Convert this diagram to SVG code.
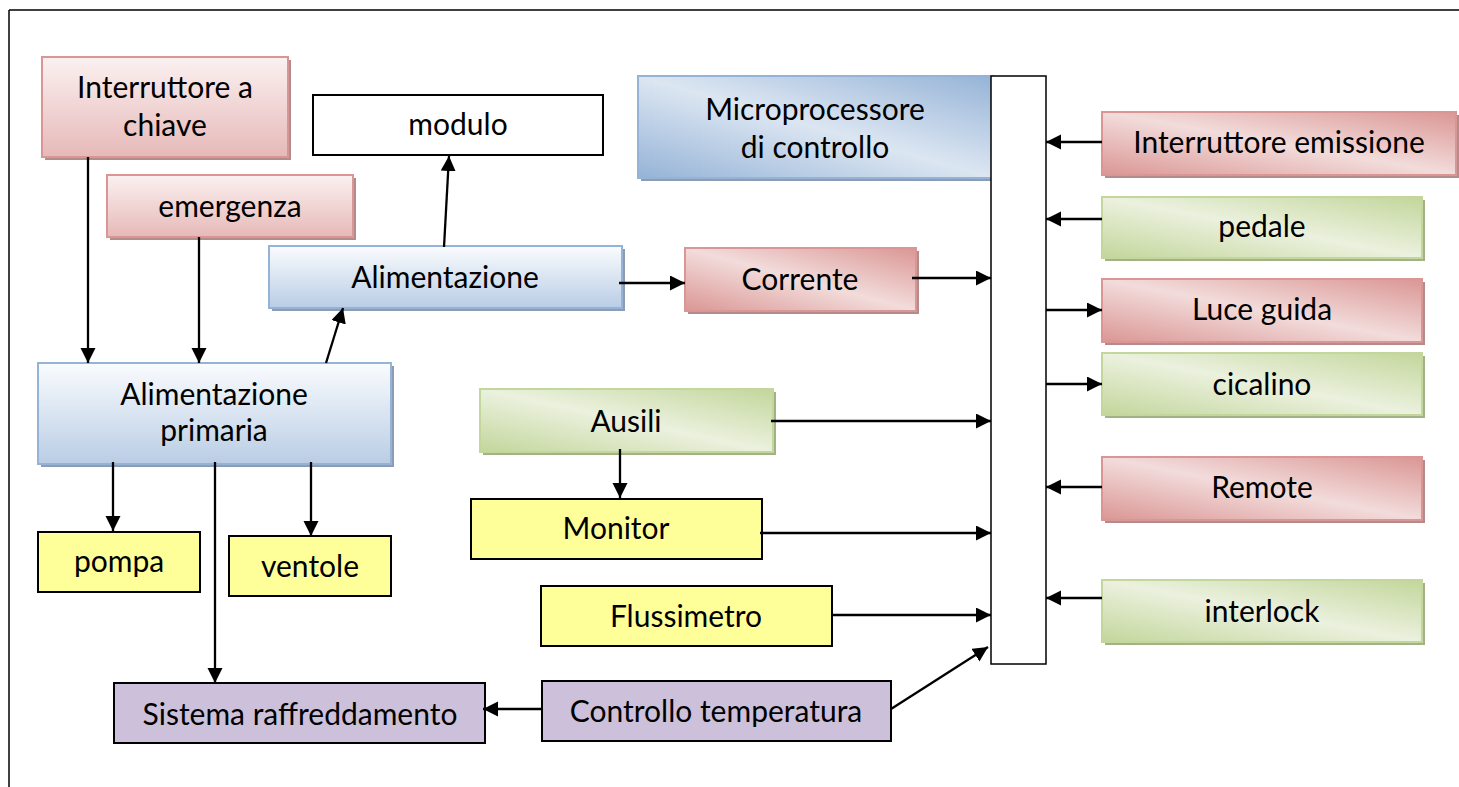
<svg xmlns="http://www.w3.org/2000/svg" width="1459" height="787" viewBox="0 0 1459 787">
<style>
  text { font-family: Lato, "Liberation Sans", sans-serif; font-size: 30px; fill: #000; text-anchor: middle; }
  .conn line { stroke: #000; stroke-width: 2.3; fill: none; }
  .redB { stroke: #d99694; stroke-width: 2; }
  .blueB { stroke: #95b3d7; stroke-width: 2; }
  .greenB { stroke: #c3d69b; stroke-width: 2; }
  .shR { fill: #b38b8a; }
  .shB { fill: #8d9cb2; }
  .shG { fill: #a3b284; }
  .plain { stroke: #000; stroke-width: 2; }
  .yel { fill: #ffff99; }
  .pur { fill: #ccc0da; }
</style>
<defs>
  <linearGradient id="redV" x1="0" y1="0" x2="0" y2="1">
    <stop offset="0" stop-color="#fbf1f1"/>
    <stop offset="1" stop-color="#e6b9b8"/>
  </linearGradient>
  <linearGradient id="blueV" x1="0" y1="0" x2="0" y2="1">
    <stop offset="0" stop-color="#fafcfe"/>
    <stop offset="1" stop-color="#b9cde5"/>
  </linearGradient>
  <linearGradient id="redD" x1="0" y1="1" x2="1" y2="0">
    <stop offset="0" stop-color="#da9694"/>
    <stop offset="0.5" stop-color="#f2dcdb"/>
    <stop offset="1" stop-color="#da9694"/>
  </linearGradient>
  <linearGradient id="greenD" x1="0" y1="1" x2="1" y2="0">
    <stop offset="0" stop-color="#c3d69b"/>
    <stop offset="0.5" stop-color="#ebf1de"/>
    <stop offset="1" stop-color="#c3d69b"/>
  </linearGradient>
  <linearGradient id="blueD" x1="0" y1="1" x2="1" y2="0">
    <stop offset="0" stop-color="#95b3d7"/>
    <stop offset="0.5" stop-color="#dce6f2"/>
    <stop offset="1" stop-color="#95b3d7"/>
  </linearGradient>
  <marker id="arr" markerUnits="userSpaceOnUse" markerWidth="16" markerHeight="16" refX="15" refY="7.5" orient="auto">
    <path d="M0,0 L15,7.5 L0,15 z" fill="#000"/>
  </marker>
</defs>

<!-- frame -->
<g id="frame" fill="none" stroke="#000" stroke-width="1.5">
  <line x1="9" y1="10" x2="1459" y2="10"/>
  <line x1="9" y1="10" x2="9" y2="787"/>
</g>

<g id="n-interruttore-chiave">
  <rect x="45" y="60" width="246" height="100" class="shR"/>
  <rect x="42" y="57" width="246" height="100" fill="url(#redV)" class="redB"/>
  <text x="165" y="98">Interruttore a</text>
  <text x="165" y="136">chiave</text>
</g>
<g id="n-emergenza">
  <rect x="110" y="178" width="246" height="62" class="shR"/>
  <rect x="107" y="175" width="246" height="62" fill="url(#redV)" class="redB"/>
  <text x="230" y="217">emergenza</text>
</g>
<g id="n-modulo">
  <rect x="313" y="95" width="290" height="60" fill="#fff" class="plain"/>
  <text x="458" y="135">modulo</text>
</g>
<g id="n-alimentazione">
  <rect x="272" y="249" width="353" height="62" class="shB"/>
  <rect x="269" y="246" width="353" height="62" fill="url(#blueV)" class="blueB"/>
  <text x="445" y="288">Alimentazione</text>
</g>
<g id="n-alimentazione-primaria">
  <rect x="41" y="366" width="353" height="101" class="shB"/>
  <rect x="38" y="363" width="353" height="101" fill="url(#blueV)" class="blueB"/>
  <text x="214" y="405">Alimentazione</text>
  <text x="214" y="441">primaria</text>
</g>
<g id="n-pompa">
  <rect x="38" y="532" width="162" height="60" class="plain yel"/>
  <text x="119" y="572">pompa</text>
</g>
<g id="n-ventole">
  <rect x="229" y="536" width="162" height="60" class="plain yel"/>
  <text x="310" y="577">ventole</text>
</g>
<g id="n-sistema-raffreddamento">
  <rect x="114" y="683" width="371" height="60" class="plain pur"/>
  <text x="300" y="725">Sistema raffreddamento</text>
</g>
<g id="n-controllo-temperatura">
  <rect x="542" y="681" width="349" height="60" class="plain pur"/>
  <text x="716" y="722">Controllo temperatura</text>
</g>
<g id="n-corrente">
  <rect x="688" y="251" width="231" height="63" class="shR"/>
  <rect x="685" y="248" width="231" height="63" fill="url(#redD)" class="redB"/>
  <text x="800" y="290">Corrente</text>
</g>
<g id="n-ausili">
  <rect x="483" y="392" width="293" height="63" class="shG"/>
  <rect x="480" y="389" width="293" height="63" fill="url(#greenD)" class="greenB"/>
  <text x="626" y="432">Ausili</text>
</g>
<g id="n-monitor">
  <rect x="471" y="499" width="291" height="60" class="plain yel"/>
  <text x="616" y="539">Monitor</text>
</g>
<g id="n-flussimetro">
  <rect x="541" y="586" width="291" height="60" class="plain yel"/>
  <text x="686" y="627">Flussimetro</text>
</g>
<g id="n-microprocessore">
  <rect x="641" y="79" width="355" height="102" class="shB"/>
  <rect x="638" y="76" width="355" height="102" fill="url(#blueD)" class="blueB"/>
  <text x="815" y="120">Microprocessore</text>
  <text x="815" y="158">di controllo</text>
</g>
<g id="n-bus">
  <rect x="991" y="76" width="55" height="588" fill="#fff" stroke="#000" stroke-width="1.5"/>
</g>
<g id="n-interruttore-emissione">
  <rect x="1105" y="115" width="354" height="63" class="shR"/>
  <rect x="1102" y="112" width="354" height="63" fill="url(#redD)" class="redB"/>
  <text x="1279" y="153">Interruttore emissione</text>
</g>
<g id="n-pedale">
  <rect x="1105" y="200" width="320" height="61" class="shG"/>
  <rect x="1102" y="197" width="320" height="61" fill="url(#greenD)" class="greenB"/>
  <text x="1262" y="237">pedale</text>
</g>
<g id="n-luce-guida">
  <rect x="1105" y="282" width="320" height="63" class="shR"/>
  <rect x="1102" y="279" width="320" height="63" fill="url(#redD)" class="redB"/>
  <text x="1262" y="320">Luce guida</text>
</g>
<g id="n-cicalino">
  <rect x="1105" y="356" width="320" height="62" class="shG"/>
  <rect x="1102" y="353" width="320" height="62" fill="url(#greenD)" class="greenB"/>
  <text x="1262" y="395">cicalino</text>
</g>
<g id="n-remote">
  <rect x="1105" y="460" width="320" height="63" class="shR"/>
  <rect x="1102" y="457" width="320" height="63" fill="url(#redD)" class="redB"/>
  <text x="1262" y="498">Remote</text>
</g>
<g id="n-interlock">
  <rect x="1105" y="583" width="320" height="62" class="shG"/>
  <rect x="1102" y="580" width="320" height="62" fill="url(#greenD)" class="greenB"/>
  <text x="1262" y="622">interlock</text>
</g>

<g id="connectors" class="conn">
  <line x1="88" y1="157" x2="88" y2="363" marker-end="url(#arr)"/>
  <line x1="199" y1="237" x2="199" y2="363" marker-end="url(#arr)"/>
  <line x1="326" y1="363" x2="343" y2="308" marker-end="url(#arr)"/>
  <line x1="444" y1="247" x2="449" y2="156" marker-end="url(#arr)"/>
  <line x1="619" y1="283" x2="685" y2="283" marker-end="url(#arr)"/>
  <line x1="912" y1="278" x2="991" y2="278" marker-end="url(#arr)"/>
  <line x1="113" y1="462" x2="113" y2="531" marker-end="url(#arr)"/>
  <line x1="215" y1="462" x2="215" y2="683" marker-end="url(#arr)"/>
  <line x1="311" y1="462" x2="311" y2="536" marker-end="url(#arr)"/>
  <line x1="771" y1="421" x2="991" y2="421" marker-end="url(#arr)"/>
  <line x1="620" y1="449" x2="620" y2="498" marker-end="url(#arr)"/>
  <line x1="760" y1="533" x2="991" y2="533" marker-end="url(#arr)"/>
  <line x1="832" y1="615" x2="991" y2="615" marker-end="url(#arr)"/>
  <line x1="891" y1="709" x2="988" y2="647" marker-end="url(#arr)"/>
  <line x1="542" y1="709" x2="483" y2="709" marker-end="url(#arr)"/>
  <line x1="1102" y1="142" x2="1046" y2="142" marker-end="url(#arr)"/>
  <line x1="1102" y1="219" x2="1046" y2="219" marker-end="url(#arr)"/>
  <line x1="1046" y1="310" x2="1102" y2="310" marker-end="url(#arr)"/>
  <line x1="1046" y1="384" x2="1102" y2="384" marker-end="url(#arr)"/>
  <line x1="1102" y1="487" x2="1046" y2="487" marker-end="url(#arr)"/>
  <line x1="1102" y1="598" x2="1046" y2="598" marker-end="url(#arr)"/>
</g>
</svg>
